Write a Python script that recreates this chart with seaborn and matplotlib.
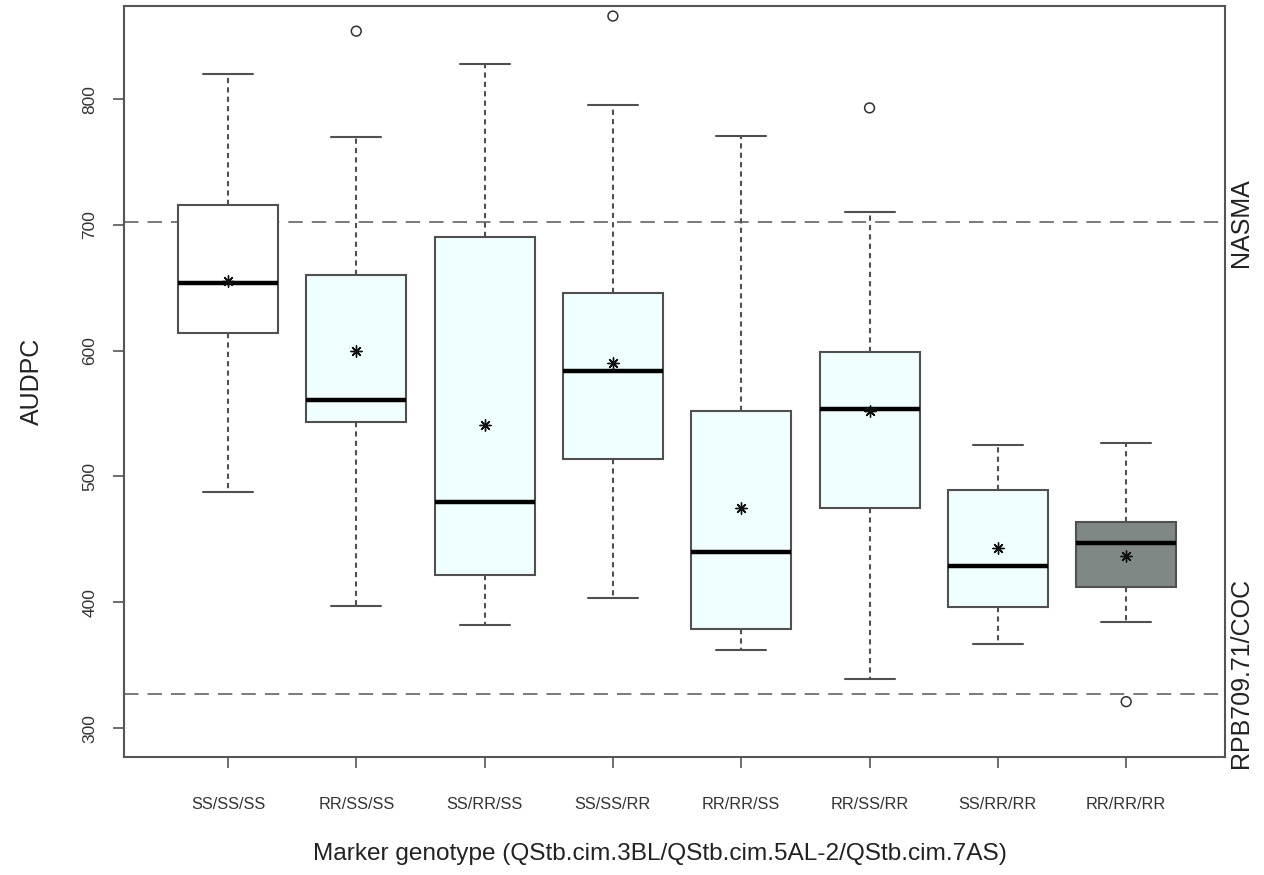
import matplotlib
matplotlib.use("Agg")
import matplotlib.pyplot as plt
import seaborn as sns
import pandas as pd
import numpy as np

categories = ["SS/SS/SS", "RR/SS/SS", "SS/RR/SS", "SS/SS/RR",
              "RR/RR/SS", "RR/SS/RR", "SS/RR/RR", "RR/RR/RR"]
whisker_low = [488, 397, 382, 403, 362, 339, 367, 384]
q1 = [614, 543, 422, 514, 379, 475, 396, 412]
median = [654, 561, 480, 584, 440, 554, 429, 447]
q3 = [716, 660, 690, 646, 552, 599, 489, 464]
whisker_high = [820, 770, 828, 795, 771, 710, 525, 527]
means = [655, 600, 541, 590, 475, 552, 443, 437]
outlier_group = ["RR/SS/SS", "SS/SS/RR", "RR/SS/RR", "RR/RR/RR"]
outlier_value = [854, 866, 793, 321]
box_colors = ["#FFFFFF", "#F0FFFF", "#F0FFFF", "#F0FFFF",
              "#F0FFFF", "#F0FFFF", "#F0FFFF", "#7F8884"]
ref_lines = [702, 327]
ref_labels = ["NASMA", "RPB709.71/COC"]
ref_label_pos = [702, 344]

# five-number summaries as long-form table (whiskers drawn to min/max)
rows = []
for i, c in enumerate(categories):
    for v in (whisker_low[i], q1[i], median[i], q3[i], whisker_high[i]):
        rows.append({"genotype": c, "AUDPC": v})
df = pd.DataFrame(rows)

sns.set_theme(style="white")
plt.rcParams["font.family"] = ["Liberation Sans", "DejaVu Sans"]

fig = plt.figure(figsize=(12.64, 8.75), dpi=100)
ax = fig.add_axes([124 / 1264, 1 - 757 / 875, (1225 - 124) / 1264, (757 - 6) / 875])

edge = "#505050"
sns.boxplot(data=df, x="genotype", y="AUDPC", hue="genotype", order=categories,
            hue_order=categories, palette=dict(zip(categories, box_colors)),
            whis=(0, 100), width=0.78, saturation=1, legend=False, ax=ax,
            linecolor=edge, linewidth=1.5,
            medianprops={"color": "black", "linewidth": 3.2},
            whiskerprops={"linestyle": (0, (2.5, 2)), "linewidth": 1.5, "color": edge},
            capprops={"linewidth": 1.5, "color": edge},
            boxprops={"edgecolor": edge, "linewidth": 1.5},
            showfliers=False)

for y in ref_lines:
    ax.axhline(y, color="#707070", linestyle=(0, (8, 5)), linewidth=1.3, zorder=1)

pos = {c: i for i, c in enumerate(categories)}
out_df = pd.DataFrame({"x": [pos[g] for g in outlier_group], "y": outlier_value})
sns.scatterplot(data=out_df, x="x", y="y", marker="o", s=50, facecolor="none",
                edgecolor="#303030", linewidth=1.1, ax=ax, zorder=5)

mean_df = pd.DataFrame({"x": list(range(len(categories))), "y": means})
sns.scatterplot(data=mean_df, x="x", y="y", marker=(8, 2, 0), s=65,
                color="#111111", edgecolor="#111111", linewidth=1.0, ax=ax, zorder=6)

ax.set_xlim(-0.81, 7.77)
ax.set_ylim(277, 874)
ax.set_yticks([300, 400, 500, 600, 700, 800])
ax.set_xticks(range(len(categories)))
ax.set_xticklabels(categories, fontsize=11.8, color="#333333")
ax.tick_params(axis="y", labelrotation=90, labelsize=12.5, labelcolor="#333333",
               left=True, length=8, width=1.2, color="#555555", pad=11)
for lab in ax.get_yticklabels():
    lab.set_va("center")
ax.tick_params(axis="x", bottom=True, length=8, width=1.2, color="#555555", pad=21)
ax.set_xlabel("Marker genotype (QStb.cim.3BL/QStb.cim.5AL-2/QStb.cim.7AS)",
              fontsize=17.6, color="#222222")
ax.xaxis.set_label_coords(0.487, -0.115)
ax.set_ylabel("AUDPC", fontsize=18, color="#222222")
ax.yaxis.set_label_coords(-0.073, 0.5)

for s in ax.spines.values():
    s.set_visible(True)
    s.set_color("#555555")
    s.set_linewidth(1.5)

for y, t in zip(ref_label_pos, ref_labels):
    ax.text(1.004, y, t, transform=ax.get_yaxis_transform(), rotation=90,
            va="center", ha="left", fontsize=18, color="#222222")

fig.savefig("out.png", dpi=100)
